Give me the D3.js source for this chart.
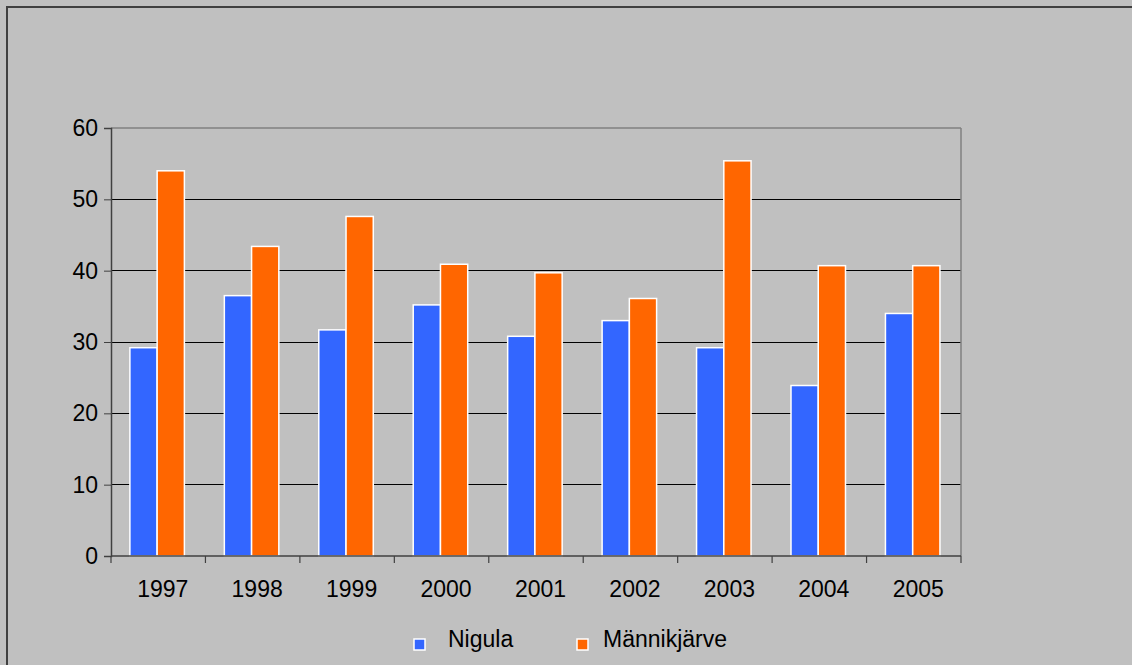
<!DOCTYPE html>
<html><head><meta charset="utf-8">
<script src="https://cdn.jsdelivr.net/npm/d3@7"></script>
<style>body{margin:0;background:#c0c0c0;}svg{display:block;font-family:"Liberation Sans",Arial,sans-serif;}</style>
</head><body>
<svg id="chart" width="1132" height="665"></svg>
<script>
const categories = ["1997","1998","1999","2000","2001","2002","2003","2004","2005"];
const seriesNames = ["Nigula","Männikjärve"];
const nigula = [29.2, 36.5, 31.7, 35.2, 30.8, 33.0, 29.2, 23.9, 34.0];
const mannikjarve = [54.0, 43.4, 47.6, 40.9, 39.7, 36.1, 55.4, 40.7, 40.7];
const yTicks = [0,10,20,30,40,50,60];
const colors = ["#3366ff","#ff6600"];

const svg = d3.select("#chart");
svg.append("rect").attr("x",0).attr("y",0).attr("width",1132).attr("height",665).attr("fill","#c0c0c0");
svg.append("rect").attr("x",7).attr("y",7).attr("width",1140).attr("height",680)
  .attr("fill","#c0c0c0").attr("stroke","#404040").attr("stroke-width",2);

const L=111, R=961, T=128, B=556;
const x = d3.scaleBand().domain(categories).range([L,R]).padding(0);
const xs = d3.scaleBand().domain(seriesNames).range([0.2*x.bandwidth(), 0.777*x.bandwidth()]).padding(0);
const y = d3.scaleLinear().domain([0,60]).range([B,T]);

// gridlines
svg.append("g").selectAll("line").data(yTicks.filter(t=>t>0 && t<60)).join("line")
  .attr("x1",L).attr("x2",R).attr("y1",d=>y(d)).attr("y2",d=>y(d))
  .attr("stroke","#000").attr("stroke-width",1).attr("shape-rendering","crispEdges");
// top and right border
svg.append("line").attr("x1",L).attr("x2",R).attr("y1",T).attr("y2",T).attr("stroke","#808080").attr("stroke-width",1.5);
svg.append("line").attr("x1",R).attr("x2",R).attr("y1",T).attr("y2",B).attr("stroke","#808080").attr("stroke-width",1.5);

// bars
const data = categories.map((c,i)=>({cat:c, vals:[nigula[i], mannikjarve[i]]}));
const g = svg.append("g").selectAll("g").data(data).join("g").attr("transform",d=>`translate(${x(d.cat)},0)`);
g.selectAll("rect").data(d=>d.vals.map((v,j)=>({v, s:seriesNames[j], j}))).join("rect")
  .attr("x",d=>xs(d.s)).attr("width",xs.bandwidth())
  .attr("y",d=>y(d.v)).attr("height",d=>y(0)-y(d.v))
  .attr("fill",d=>colors[d.j]).attr("stroke","#fff").attr("stroke-width",1.5);

// y axis
const yAxis = d3.axisLeft(y).tickValues(yTicks).tickSize(7).tickPadding(6).tickFormat(d3.format("d"));
const ya = svg.append("g").attr("transform",`translate(${L},0)`).call(yAxis);
ya.select(".domain").attr("stroke","#404040").attr("stroke-width",1.5);
ya.selectAll(".tick line").attr("stroke","#404040");
ya.selectAll("text").attr("font-size",23).attr("fill","#000").attr("font-family","Liberation Sans, Arial, sans-serif");

// x axis
const xa = svg.append("g").attr("transform",`translate(0,${B})`);
xa.append("line").attr("x1",L).attr("x2",R).attr("y1",0).attr("y2",0).attr("stroke","#404040").attr("stroke-width",1.5);
const bounds = categories.map(c=>x(c)).concat([R]);
xa.selectAll("line.tk").data(bounds).join("line").attr("class","tk")
  .attr("x1",d=>d).attr("x2",d=>d).attr("y1",0).attr("y2",7).attr("stroke","#404040").attr("stroke-width",1.2);
xa.selectAll("text").data(categories).join("text")
  .attr("x",d=>x(d)+x.bandwidth()/2+4.5).attr("y",41).attr("text-anchor","middle")
  .attr("font-size",23).attr("fill","#000").text(d=>d);

// legend
const legendX = [413, 576];
const lg = svg.append("g").selectAll("g").data(seriesNames).join("g")
  .attr("transform",(d,i)=>`translate(${legendX[i]},638)`);
lg.append("rect").attr("x",1).attr("y",1).attr("width",11).attr("height",11)
  .attr("fill",(d,i)=>colors[i]).attr("stroke","#fff").attr("stroke-width",1.5);
lg.append("text").attr("x",(d,i)=>i===0?35:27).attr("y",9).attr("font-size",23).attr("fill","#000").text(d=>d);
</script>
</body></html>
